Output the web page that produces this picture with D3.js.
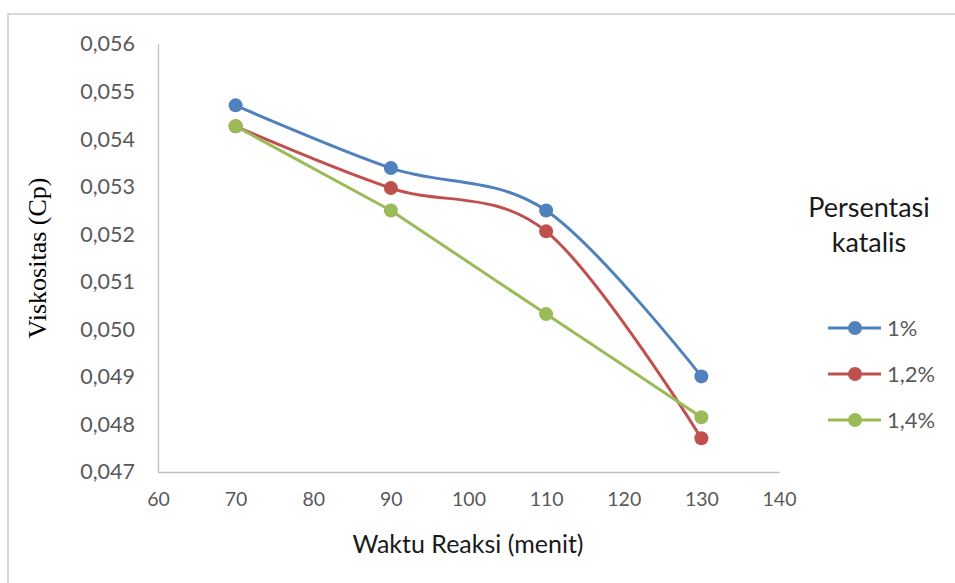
<!DOCTYPE html>
<html>
<head>
<meta charset="utf-8">
<script src="https://cdn.jsdelivr.net/npm/d3@7/dist/d3.min.js"></script>
<style>
  html, body { margin: 0; padding: 0; background: #fff; }
  svg { display: block; }
</style>
</head>
<body>
<svg id="chart" width="955" height="583"></svg>
<script>
// Reaction time (minutes) on the x axis
const waktu = [70, 90, 110, 130];

// Viscosity (Cp) for each catalyst percentage
const visk1 = [0.05471, 0.05339, 0.05250, 0.04901];
const visk12 = [0.05427, 0.05297, 0.05206, 0.04771];
const visk14 = [0.05427, 0.05250, 0.05032, 0.04815];

const seriesNames = ["1%", "1,2%", "1,4%"];
const seriesColors = ["#4f81bd", "#c0504d", "#9bbb59"];
const seriesSmooth = [true, true, false];

const xTicks = [60, 70, 80, 90, 100, 110, 120, 130, 140];
const yTicks = [0.047, 0.048, 0.049, 0.050, 0.051, 0.052, 0.053, 0.054, 0.055, 0.056];

const seriesValues = [visk1, visk12, visk14];

const svg = d3.select("#chart");
const tickFont = "Lato, 'Open Sans', sans-serif";

// Outer chart frame
svg.append("path")
  .attr("d", "M8,955 V14 H955")
  .attr("fill", "none")
  .attr("stroke", "#d9d9d9")
  .attr("stroke-width", 2);

const x = d3.scaleLinear().domain([60, 140]).range([158, 779]);
const y = d3.scaleLinear().domain([0.047, 0.056]).range([472, 44]);

const fmtY = v => d3.format(".3f")(v).replace(".", ",");

// Axes (no tick marks, light grey domain lines)
const yAxis = svg.append("g")
  .attr("transform", `translate(${x.range()[0]},0)`)
  .call(d3.axisLeft(y).tickValues(yTicks).tickFormat(fmtY).tickSize(0).tickPadding(23));
const xAxis = svg.append("g")
  .attr("transform", `translate(0,${y.range()[0]})`)
  .call(d3.axisBottom(x).tickValues(xTicks).tickFormat(d3.format("d")).tickSize(0).tickPadding(20));

[xAxis, yAxis].forEach(g => {
  g.select(".domain").attr("stroke", "#bfbfbf").attr("stroke-width", 1.3);
  g.selectAll("text")
    .attr("font-family", tickFont)
    .attr("fill", "#595959");
});
yAxis.selectAll("text").attr("font-size", 21.5);
xAxis.selectAll("text").attr("font-size", 19.5);

// Axis titles
svg.append("text")
  .attr("x", 468).attr("y", 553)
  .attr("text-anchor", "middle")
  .attr("font-family", tickFont)
  .attr("font-size", 25)
  .attr("fill", "#1a1a1a")
  .text("Waktu Reaksi (menit)");

svg.append("text")
  .attr("transform", "translate(46,258) rotate(-90)")
  .attr("text-anchor", "middle")
  .attr("font-family", "'Liberation Serif', 'DejaVu Serif', serif")
  .attr("font-size", 26)
  .attr("fill", "#000")
  .text("Viskositas (Cp)");

// Series lines and markers
seriesValues.forEach((vals, i) => {
  const pts = waktu.map((t, j) => [t, vals[j]]);
  const line = d3.line()
    .x(d => x(d[0]))
    .y(d => y(d[1]))
    .curve(seriesSmooth[i] ? d3.curveCatmullRom.alpha(0) : d3.curveLinear);
  const g = svg.append("g");
  g.append("path")
    .attr("d", line(pts))
    .attr("fill", "none")
    .attr("stroke", seriesColors[i])
    .attr("stroke-width", 3)
    .attr("stroke-linejoin", "round");
  g.selectAll("circle")
    .data(pts)
    .join("circle")
    .attr("cx", d => x(d[0]))
    .attr("cy", d => y(d[1]))
    .attr("r", 7)
    .attr("fill", seriesColors[i]);
});

// Legend
const legend = svg.append("g");
legend.append("text")
  .attr("x", 869).attr("y", 217)
  .attr("text-anchor", "middle")
  .attr("font-family", tickFont)
  .attr("font-size", 27)
  .attr("fill", "#1a1a1a")
  .text("Persentasi");
legend.append("text")
  .attr("x", 869).attr("y", 252)
  .attr("text-anchor", "middle")
  .attr("font-family", tickFont)
  .attr("font-size", 27)
  .attr("fill", "#1a1a1a")
  .text("katalis");

const legendY = d3.scalePoint().domain(seriesNames).range([328, 420]);
seriesNames.forEach((name, i) => {
  const ly = legendY(name);
  legend.append("line")
    .attr("x1", 828).attr("x2", 881)
    .attr("y1", ly).attr("y2", ly)
    .attr("stroke", seriesColors[i])
    .attr("stroke-width", 3);
  legend.append("circle")
    .attr("cx", 855).attr("cy", ly)
    .attr("r", 7)
    .attr("fill", seriesColors[i]);
  legend.append("text")
    .attr("x", 887).attr("y", ly)
    .attr("dy", "0.35em")
    .attr("font-family", tickFont)
    .attr("font-size", 22)
    .attr("fill", "#595959")
    .text(name);
});
</script>
</body>
</html>
